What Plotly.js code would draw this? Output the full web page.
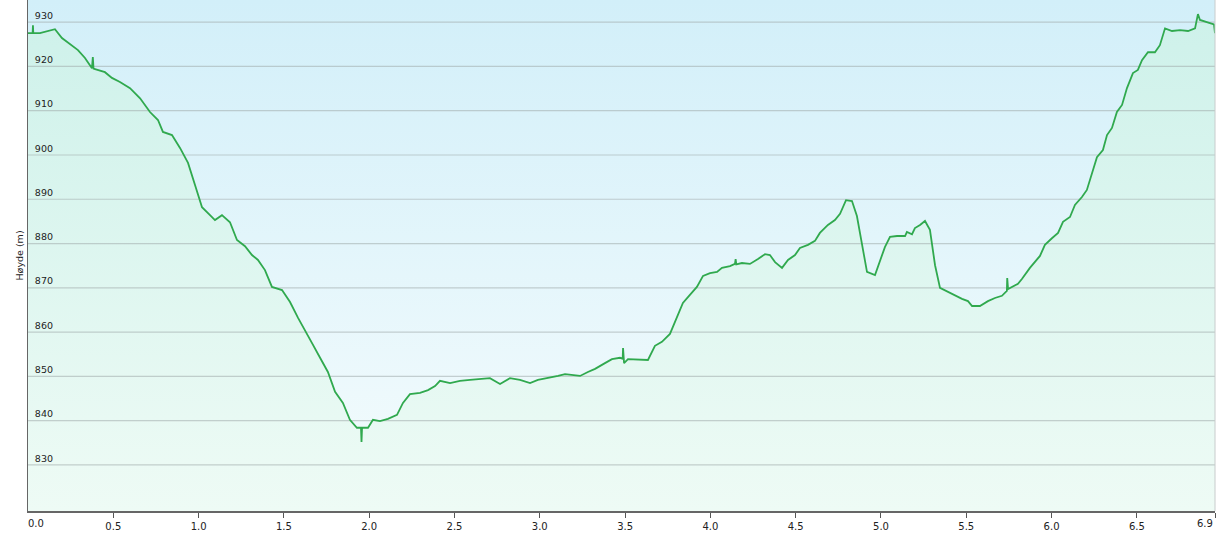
<!DOCTYPE html>
<html>
<head>
<meta charset="utf-8">
<script src="https://cdn.plot.ly/plotly-3.0.1.min.js"></script>
<style>
html,body{margin:0;padding:0;background:#fff;}
#chart{width:1224px;height:536px;}
</style>
</head>
<body>
<div id="chart"></div>
<script>
// Distance along the route (km)
const distanceKm = [
0.000,0.027,0.029,0.031,0.070,0.158,0.199,0.246,0.293,0.334,0.375,0.380,0.384,0.393,0.451,0.492,0.539,0.598,0.657,0.715,
0.762,0.791,0.844,0.891,0.938,0.979,1.020,1.067,1.096,1.137,1.184,1.225,1.272,1.313,1.348,1.389,1.430,1.489,1.536,1.583,
1.624,1.665,1.712,1.758,1.800,1.846,1.887,1.928,1.952,1.955,1.958,1.993,2.022,2.063,2.110,2.163,2.198,2.239,2.298,2.345,
2.386,2.415,2.474,2.532,2.591,2.649,2.708,2.767,2.825,2.884,2.943,2.989,3.048,3.107,3.148,3.236,3.282,3.324,3.382,3.423,
3.470,3.486,3.488,3.494,3.517,3.587,3.634,3.675,3.716,3.763,3.804,3.839,3.880,3.921,3.957,3.998,4.039,4.068,4.115,4.144,
4.148,4.152,4.185,4.232,4.279,4.320,4.349,4.379,4.420,4.455,4.496,4.525,4.572,4.613,4.642,4.689,4.730,4.760,4.795,4.830,
4.859,4.888,4.918,4.965,4.994,5.023,5.053,5.094,5.141,5.152,5.182,5.199,5.229,5.258,5.287,5.317,5.346,5.393,5.434,5.475,
5.510,5.534,5.580,5.627,5.668,5.709,5.738,5.740,5.745,5.768,5.803,5.826,5.873,5.932,5.961,6.002,6.038,6.067,6.108,6.137,
6.178,6.207,6.237,6.266,6.301,6.325,6.354,6.383,6.413,6.442,6.477,6.506,6.530,6.565,6.606,6.635,6.665,6.706,6.753,6.800,
6.841,6.858,6.870,6.917,6.952,6.958
];
// Elevation (m)
const elevationM = [
927.5,927.5,929.3,927.5,927.5,928.4,926.4,925.0,923.7,921.9,919.6,922.1,919.5,919.4,918.7,917.4,916.5,915.1,912.8,909.7,
907.9,905.2,904.5,901.6,898.2,893.2,888.2,886.4,885.3,886.4,884.8,880.8,879.4,877.4,876.3,874.0,870.2,869.5,866.8,863.2,
860.5,857.5,854.2,851.0,846.5,844.0,840.2,838.4,838.4,835.2,838.4,838.4,840.2,839.9,840.4,841.3,844.0,846.0,846.3,846.9,
847.8,849.0,848.5,849.0,849.2,849.4,849.6,848.3,849.6,849.2,848.5,849.2,849.6,850.1,850.5,850.1,851.0,851.7,853.0,853.9,
854.2,854.0,856.4,853.0,853.9,853.7,853.7,856.9,857.8,859.6,863.2,866.6,868.4,870.2,872.7,873.3,873.6,874.5,874.9,875.4,
876.5,875.3,875.6,875.4,876.5,877.6,877.4,875.8,874.5,876.3,877.4,879.0,879.7,880.6,882.4,884.2,885.3,886.7,889.8,889.6,
886.2,879.7,873.6,872.9,876.3,879.2,881.5,881.7,881.7,882.6,882.1,883.5,884.2,885.1,883.1,875.1,870.0,869.1,868.2,867.5,
867.0,865.9,865.9,867.0,867.7,868.2,869.3,872.2,869.7,870.2,870.9,872.0,874.5,877.2,879.7,881.2,882.4,884.9,886.0,888.7,
890.5,892.1,896.1,899.5,901.1,904.5,906.1,909.7,911.3,915.1,918.5,919.2,921.4,923.2,923.2,924.8,928.6,928.0,928.2,928.0,
928.6,931.8,930.5,930.0,929.5,927.5
];
// Axis ticks
const xTickVals = [0,0.5,1,1.5,2,2.5,3,3.5,4,4.5,5,5.5,6,6.5,6.958];
const xTickText = ['0.0','0.5','1.0','1.5','2.0','2.5','3.0','3.5','4.0','4.5','5.0','5.5','6.0','6.5','6.9'];
const yTickVals = [830,840,850,860,870,880,890,900,910,920,930];
const yTitle = 'Høyde (m)';

const yRange = [819.6, 935.0];
const xRange = [0, distanceKm[distanceKm.length-1]];
const lastI = xTickText.length - 1;

// inner tick labels drawn by the axis; the two edge labels are aligned inward
const xTickLabels = xTickText.map((t, i) => (i === 0 || i === lastI) ? '' : t);
const tickFont = {family: 'DejaVu Sans, Verdana, sans-serif', size: 10, color: '#222'};
const edgeLabels = [
  {x: xTickVals[0], text: xTickText[0], xanchor: 'left', xshift: -1},
  {x: xTickVals[lastI], text: xTickText[lastI], xanchor: 'right', xshift: -1}
].map(a => Object.assign(a, {
  xref: 'x', yref: 'paper', y: 0, yanchor: 'top', yshift: -6,
  showarrow: false, font: tickFont, borderpad: 0
}));

// gridlines built from tick values, drawn above the fills
const gx = [], gy = [];
yTickVals.forEach(v => { gx.push(xRange[0], xRange[1], null); gy.push(v, v, null); });

const traces = [
  { // background gradient
    x: xRange, y: [yRange[1], yRange[1]], type: 'scatter', mode: 'lines',
    line: {width: 0}, fill: 'tozeroy',
    fillgradient: {type: 'vertical', start: yRange[0], stop: yRange[1],
      colorscale: [[0, '#f5fcfd'], [1, '#d2eff9']]},
    hoverinfo: 'skip', showlegend: false
  },
  { // area under profile
    x: distanceKm, y: elevationM, type: 'scatter', mode: 'lines',
    line: {width: 0}, fill: 'tozeroy',
    fillgradient: {type: 'vertical', start: yRange[0], stop: yRange[1],
      colorscale: [[0, '#eefbf5'], [1, '#cdf1ea']]},
    hoverinfo: 'skip', showlegend: false
  },
  { // gridlines
    x: gx, y: gy, type: 'scatter', mode: 'lines',
    line: {color: 'rgba(160,172,172,0.55)', width: 1.2},
    hoverinfo: 'skip', showlegend: false
  },
  { // profile line
    x: distanceKm, y: elevationM, type: 'scatter', mode: 'lines',
    line: {color: '#30a94e', width: 1.8},
    hoverinfo: 'skip', showlegend: false
  }
];

const layout = {
  width: 1224, height: 536,
  margin: {l: 28, r: 9, t: 0, b: 25, pad: 0},
  paper_bgcolor: '#ffffff', plot_bgcolor: '#ffffff',
  showlegend: false,
  font: {family: 'DejaVu Sans, Verdana, sans-serif', size: 10, color: '#222'},
  xaxis: {
    range: xRange, tickvals: xTickVals, ticktext: xTickLabels,
    ticks: 'outside', ticklen: 5, tickcolor: '#555', tickwidth: 1,
    showline: true, linecolor: '#666', linewidth: 1.5,
    showgrid: false, zeroline: false, fixedrange: true,
    tickfont: tickFont
  },
  yaxis: {
    range: yRange, tickvals: yTickVals,
    ticklabelposition: 'inside top', ticks: '', ticklabelstandoff: 5,
    showline: true, linecolor: '#666', linewidth: 1.5,
    showgrid: false, zeroline: false, fixedrange: true,
    tickfont: {size: 9.5, color: '#222'},
    title: {text: yTitle, font: {size: 9.5, color: '#222'}, standoff: 9},
    automargin: false
  },
  annotations: edgeLabels,
  shapes: [
    {type: 'line', xref: 'paper', yref: 'paper', x0: 1, x1: 1, y0: 0, y1: 1,
     line: {color: '#c8cccc', width: 1}}
  ]
};

Plotly.newPlot('chart', traces, layout, {displayModeBar: false, staticPlot: true});
</script>
</body>
</html>
